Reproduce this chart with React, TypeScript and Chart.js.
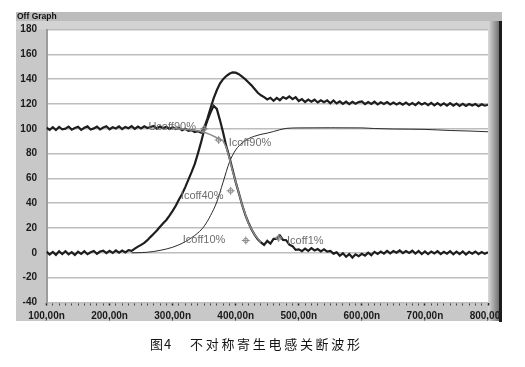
import React, { useEffect, useRef } from "react";
import { Chart, registerables } from "chart.js";

Chart.register(...registerables);

// ---- data ----
const TIMES = [
  100, 105, 110, 115, 120, 125, 130, 135, 140, 145,
  150, 155, 160, 165, 170, 175, 180, 185, 190, 195,
  200, 205, 210, 215, 220, 225, 230, 235, 240, 245,
  250, 255, 260, 265, 270, 275, 280, 285, 290, 295,
  300, 305, 310, 315, 320, 325, 330, 335, 340, 345,
  350, 355, 360, 365, 370, 375, 380, 385, 390, 395,
  400, 405, 410, 415, 420, 425, 430, 435, 440, 445,
  450, 455, 460, 465, 470, 475, 480, 485, 490, 495,
  500, 505, 510, 515, 520, 525, 530, 535, 540, 545,
  550, 555, 560, 565, 570, 575, 580, 585, 590, 595,
  600, 605, 610, 615, 620, 625, 630, 635, 640, 645,
  650, 655, 660, 665, 670, 675, 680, 685, 690, 695,
  700, 705, 710, 715, 720, 725, 730, 735, 740, 745,
  750, 755, 760, 765, 770, 775, 780, 785, 790, 795,
  800,
];

const VCE = [
  100.9, 99.2, 101.3, 99.0, 101.5, 99.6, 100.1, 101.8, 99.3, 100.6,
  101.6, 99.1, 100.8, 101.9, 99.4, 100.3, 101.7, 99.5, 101.0, 102.0,
  99.6, 101.2, 100.2, 101.9, 99.8, 101.5, 100.4, 102.1, 99.9, 101.8,
  100.3, 102.0, 100.6, 101.4, 102.2, 100.2, 101.9, 100.5, 101.6, 99.9,
  101.2, 99.8, 100.7, 98.9, 100.0, 98.4, 98.9, 97.3, 98.0, 96.9,
  101.0, 108.0, 116.5, 124.5, 131.0, 136.5, 140.0, 142.5, 144.3, 145.5,
  145.2, 144.0, 142.0, 140.0, 137.5, 135.0, 132.0, 129.0, 127.0, 125.5,
  123.6, 125.0, 122.6, 124.9, 123.0, 125.6, 124.2, 126.0, 123.9, 125.4,
  122.4, 123.9, 121.6, 123.5, 121.8, 123.4, 121.2, 123.0, 121.4, 122.9,
  120.6, 122.8, 120.4, 122.1, 120.0, 121.9, 119.8, 121.7, 120.2, 121.5,
  122.0, 119.9, 121.6, 120.1, 121.8, 119.7, 121.4, 120.0, 121.5, 119.6,
  121.2, 119.6, 121.0, 119.4, 121.1, 119.3, 120.8, 119.1, 121.2, 119.5,
  120.8, 119.0, 120.9, 118.8, 120.6, 118.9, 120.5, 118.6, 120.7, 118.7,
  120.3, 118.5, 120.1, 118.4, 120.0, 118.7, 119.9, 118.2, 119.8, 118.6,
  119.4,
];

const IC_PULSE = [
  1.0, -1.4, 0.8, -1.6, 1.2, -0.9, 1.3, -1.2, 0.6, -1.7,
  0.9, -0.8, 1.4, -1.1, 0.5, 1.5, -0.7, 1.1, 1.8, -0.2,
  1.6, -0.1, 2.0, 0.2, 1.8, 0.4, 2.2, 1.6, 3.4, 5.0,
  6.4, 8.1, 10.2, 12.9, 15.4, 18.0, 21.0, 23.8, 26.5, 30.0,
  33.8, 38.0, 43.0, 47.5, 53.0, 59.0, 65.0, 71.5, 80.0, 89.0,
  99.0, 106.5, 113.0, 118.5, 116.0, 107.0, 97.0, 86.0, 77.0, 67.0,
  57.0, 48.0, 39.0, 31.0, 24.5, 19.0, 14.5, 11.0, 8.5, 6.4,
  9.6, 7.4, 11.3, 11.2, 14.0, 10.4, 10.2, 6.6, 5.4, 2.4,
  2.8, 1.4, 3.4, 1.6, 3.8, 1.9, 3.1, 1.2, 2.8, 1.0,
  1.6, -0.6, 0.4, -2.4, -0.4, -3.2, -1.0, -3.8, -1.2, -2.6,
  -0.8, -2.2, 0.2, -1.9, 0.8, -0.8, 1.0, -0.6, 1.6, -0.4,
  1.5, 0.1, 1.9, -0.2, 1.4, 0.0, 1.7, -0.6, 1.5, -0.9,
  1.2, -1.0, 1.1, -0.5, 1.4, -1.0, 0.9, -0.7, 1.3, -1.1,
  1.0, -0.9, 1.2, -1.3, 0.8, -0.6, 1.1, -1.0, 0.7, -0.8,
  0.4,
];

const SMOOTH_T = [235, 250, 260, 270, 280, 290, 300, 310, 320, 330, 340, 350, 360, 370, 380, 390, 400, 410, 420, 430, 440, 450, 460, 470, 480, 500, 550, 600, 620, 650, 700, 740, 770, 800];
const SMOOTH_V = [0, 0.2, 0.5, 1.1, 2, 3.1, 4.5, 6.5, 9, 12.2, 16, 21.5, 30, 41, 57, 73, 83, 88.5, 92, 94, 95.5, 96.5, 97.8, 99.2, 100.3, 100.7, 100.8, 100.7, 100.2, 99.8, 99.5, 98.6, 98.2, 97.6];

const IC_T = [300, 320, 340, 350, 360, 370, 380, 385, 390, 395, 400, 410, 420, 430, 440];
const IC_V = [100.3, 99.6, 98.4, 97.2, 95.3, 92.8, 90.2, 85, 76, 66, 57, 39, 24, 14.5, 8.5];

const MARK_X = [350, 373, 392, 416, 468];
const MARK_Y = [100, 91, 50, 10, 12];

const LABEL_TEXT = ["Ucoff90%", "Icoff90%", "Icoff40%", "Icoff10%", "Icoff1%"];
const LABEL_X = [261.6, 389, 313, 316, 481.4];
const LABEL_Y = [101.5, 88.5, 46, 10, 9.5];

const Y_MIN = -40;
const Y_MAX = 180;
const Y_STEP = 20;
const X_MIN = 100;
const X_MAX = 800;
const X_MINOR_STEP = 10;
const X_MAJOR_STEP = 100;

const TITLE = "Off Graph";
const CAPTION_FIG = "图4";
const CAPTION_TEXT = "不对称寄生电感关断波形";

const pts = (xs: number[], ys: number[]) => xs.map((x, i) => ({ x, y: ys[i] }));

const framePlugin = {
  id: "frame",
  beforeDraw(chart: any) {
    const { ctx, chartArea: ca } = chart;
    ctx.save();
    ctx.fillStyle = "#ffffff";
    ctx.fillRect(0, 0, chart.width, chart.height);
    // outer gray panel
    ctx.fillStyle = "#c8c8c8";
    ctx.fillRect(16, 12, 484, 309);
    // title bar
    ctx.fillStyle = "#bcbcbc";
    ctx.fillRect(16, 12, 486, 9);
    ctx.fillStyle = "#d3d3d3";
    ctx.fillRect(16, 21, 484, ca.top - 21);
    // right gradient
    const g = ctx.createLinearGradient(ca.right, 0, 499, 0);
    g.addColorStop(0, "#dadada");
    g.addColorStop(1, "#727272");
    ctx.fillStyle = g;
    ctx.fillRect(ca.right, 21, 499 - ca.right, 300);
    // plot area
    ctx.fillStyle = "#ffffff";
    ctx.fillRect(ca.left, ca.top, ca.right - ca.left, ca.bottom - ca.top);
    // title
    ctx.fillStyle = "#111111";
    ctx.font = 'bold 8.5px "Liberation Sans"';
    ctx.textBaseline = "middle";
    ctx.textAlign = "left";
    ctx.fillText(TITLE, 17, 16.8);
    ctx.restore();
  },
  afterDraw(chart: any) {
    const { ctx } = chart;
    const xs = chart.scales.x;
    const ys = chart.scales.y;
    ctx.save();
    // right dark border (covers tail of last tick label, as in the original)
    ctx.fillStyle = "#1c1c1c";
    ctx.fillRect(499, 21, 3, 301);
    ctx.fillStyle = "#ffffff";
    ctx.fillRect(502, 12, 23, 320);
    // markers
    ctx.strokeStyle = "#8a8a8a";
    ctx.lineWidth = 1;
    MARK_X.forEach((mx, i) => {
      const px = xs.getPixelForValue(mx);
      const py = ys.getPixelForValue(MARK_Y[i]);
      ctx.beginPath();
      ctx.arc(px, py, 2.3, 0, Math.PI * 2);
      ctx.moveTo(px - 4, py);
      ctx.lineTo(px + 4, py);
      ctx.moveTo(px, py - 4);
      ctx.lineTo(px, py + 4);
      ctx.stroke();
    });
    // labels
    ctx.fillStyle = "#6e6e6e";
    ctx.font = '11px "Liberation Sans"';
    ctx.textBaseline = "middle";
    ctx.textAlign = "left";
    LABEL_TEXT.forEach((t, i) => {
      ctx.fillText(t, xs.getPixelForValue(LABEL_X[i]), ys.getPixelForValue(LABEL_Y[i]));
    });
    // caption
    ctx.fillStyle = "#151515";
    ctx.font = '13px "Noto Sans CJK SC"';
    (ctx as any).letterSpacing = "1px";
    ctx.fillText(CAPTION_FIG, 150, 344);
    (ctx as any).letterSpacing = "2.7px";
    ctx.fillText(CAPTION_TEXT, 190, 344);
    ctx.restore();
  },
};

export default function App() {
  const ref = useRef<HTMLCanvasElement | null>(null);
  useEffect(() => {
    if (!ref.current) return;
    const chart = new Chart(ref.current, {
      type: "line",
      data: {
        datasets: [
          {
            label: "Ic",
            data: pts(IC_T, IC_V),
            borderColor: "#8c8c8c",
            borderWidth: 1.5,
            pointRadius: 0,
            tension: 0,
          },
          {
            label: "Vce",
            data: pts(TIMES, VCE),
            borderColor: "#1e1e1e",
            borderWidth: 2.2,
            pointRadius: 0,
            tension: 0,
          },
          {
            label: "Ipulse",
            data: pts(TIMES, IC_PULSE),
            borderColor: "#1e1e1e",
            borderWidth: 2.2,
            pointRadius: 0,
            tension: 0,
          },
          {
            label: "Smooth",
            data: pts(SMOOTH_T, SMOOTH_V),
            borderColor: "#2a2a2a",
            borderWidth: 1,
            pointRadius: 0,
            cubicInterpolationMode: "monotone",
          },
        ],
      },
      options: {
        responsive: false,
        animation: false,
        events: [],
        layout: { padding: { left: 16, top: 29.5, right: 37, bottom: 44.5 } },
        plugins: { legend: { display: false }, tooltip: { enabled: false } },
        scales: {
          x: {
            type: "linear",
            min: X_MIN,
            max: X_MAX,
            afterFit: (s: any) => {
              s.height = 20;
            },
            ticks: {
              stepSize: X_MINOR_STEP,
              autoSkip: false,
              maxRotation: 0,
              padding: 5,
              color: "#1a1a1a",
              font: { family: "Liberation Sans", size: 10, weight: "bold" },
              callback: (v: any) => (Number(v) % X_MAJOR_STEP === 0 ? `${v},00n` : ""),
            },
            grid: {
              drawOnChartArea: false,
              drawTicks: true,
              tickLength: 3,
              tickColor: (c: any) => (c.tick && c.tick.value % X_MAJOR_STEP === 0 ? "#222" : "#444"),
              tickWidth: (c: any) => (c.tick && c.tick.value % X_MAJOR_STEP === 0 ? 1.5 : 1),
            },
            border: { display: false },
          },
          y: {
            min: Y_MIN,
            max: Y_MAX,
            afterFit: (s: any) => {
              s.width = 30.5;
            },
            ticks: {
              stepSize: Y_STEP,
              padding: 9.5,
              color: "#1a1a1a",
              font: { family: "Liberation Sans", size: 10, weight: "bold" },
            },
            grid: { color: "#bdbdbd", lineWidth: 1.5, drawTicks: false },
            border: { display: true, color: "#9c9c9c", width: 2 },
          },
        },
      },
      plugins: [framePlugin],
    });
    return () => chart.destroy();
  }, []);
  return (
    <canvas
      ref={ref}
      width={525}
      height={367}
      style={{ position: "absolute", left: 0, top: 0, width: 525, height: 367 }}
    />
  );
}
